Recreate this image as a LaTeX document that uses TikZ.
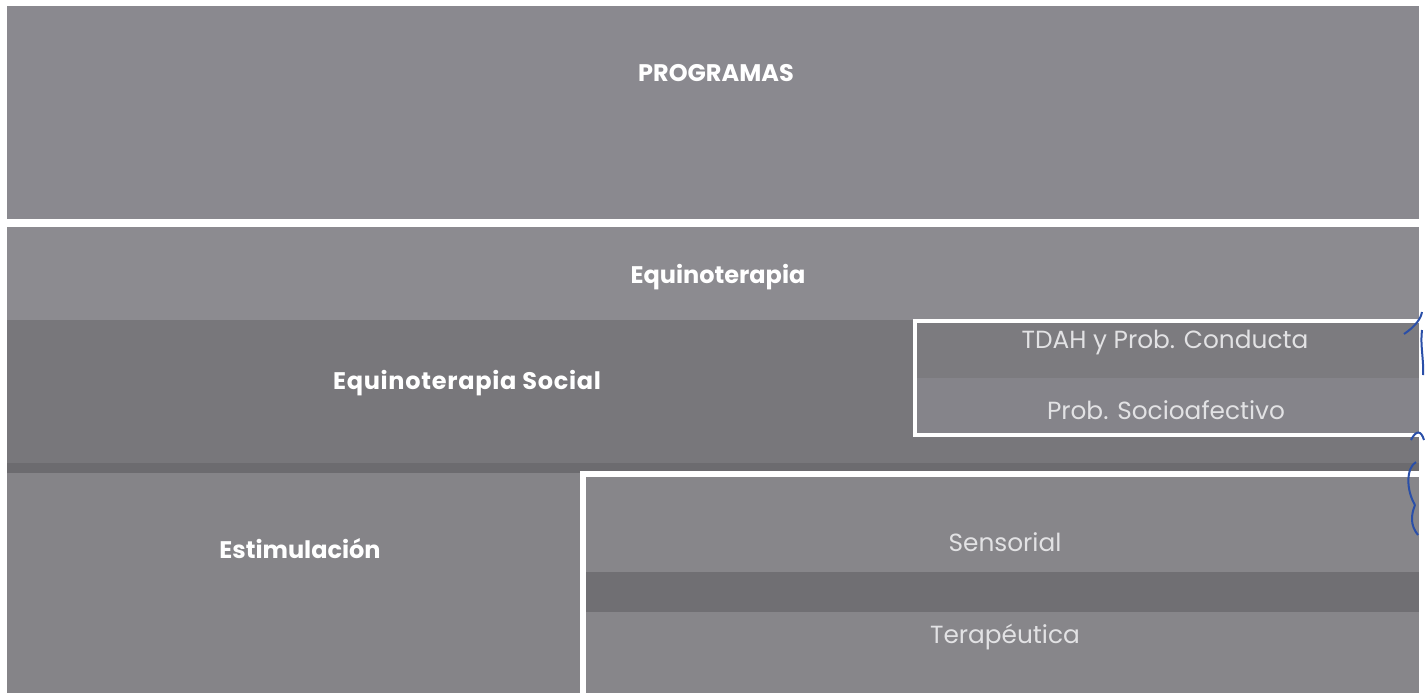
\documentclass[tikz,border=0pt]{standalone}
\usepackage{fontspec}
\setmainfont{Poppins}
\definecolor{gtop}{HTML}{8A898F}
\definecolor{gequi}{HTML}{8C8B90}
\definecolor{gsoc}{HTML}{78777B}
\definecolor{gdark}{HTML}{6C6B6F}
\definecolor{gest}{HTML}{858488}
\definecolor{gsens}{HTML}{87868A}
\definecolor{gband}{HTML}{706F73}
\definecolor{gtdah}{HTML}{7C7B7F}
\definecolor{gsocio}{HTML}{85848A}
\definecolor{soft}{HTML}{E2E2E4}
\definecolor{pen}{HTML}{2A4FA8}
\tikzset{
  title/.style={text=white,font=\fontsize{12}{14}\selectfont\bfseries,inner sep=0pt},
  sub/.style={text=soft,font=\fontsize{12.4}{14}\selectfont,inner sep=0pt},
  frame/.style={draw=white,line width=3}
}
\begin{document}
\begin{tikzpicture}[x=0.5pt,y=-0.5pt]
\useasboundingbox (0,0) rectangle (1426,693);
\fill[white] (0,0) rectangle (1426,693);
% bands
\fill[gtop] (7,6) rectangle (1419,219);
\fill[gequi] (7,227) rectangle (1419,320);
\fill[gsoc] (7,320) rectangle (1419,463);
\fill[gdark] (7,463) rectangle (1419,473);
\fill[gest] (7,473) rectangle (1419,693);
\fill[gsens] (585,475) rectangle (1419,572);
\fill[gband] (585,572) rectangle (1419,612);
\fill[gsens] (585,612) rectangle (1419,693);
\fill[gtdah] (916,322) rectangle (1419,378);
\fill[gsocio] (916,378) rectangle (1419,434);
% frames
\draw[frame,line width=2] (1419,321) -- (915,321) -- (915,435) -- (1419,435);
\draw[frame] (583,693) -- (583,474) -- (1419,474);
% texts
\node[title] (prog) at (716,73) {PROGRAMAS};
\node[title] (equi) at (718,277) {Equinoterapia};
\node[title] (soc) at (467,383) {\addfontfeatures{LetterSpace=3}Equinoterapia Social};
\node[title] (est) at (300,549) {Estimulación};
\node[sub] (tdah) at (1165,343) {TDAH y Prob. Conducta};
\node[sub] (socio) at (1166,410) {Prob. Socioafectivo};
\node[sub] (sens) at (1005,542) {Sensorial};
\node[sub] (tera) at (1005,637) {Terapéutica};
% pen marks at right edge
\draw[pen,line width=1] (1404,334) .. controls (1416,326) and (1421,318) .. (1422,312);
\draw[pen,line width=1] (1422,330) .. controls (1420,345) and (1424,360) .. (1423,375);
\draw[pen,line width=1] (1411,440) .. controls (1416,430) and (1421,430) .. (1424,440);
\draw[pen,line width=1] (1416,462) .. controls (1406,468) and (1406,490) .. (1415,505);
\draw[pen,line width=1] (1415,505) .. controls (1411,515) and (1410,525) .. (1418,535);
\end{tikzpicture}
\end{document}
